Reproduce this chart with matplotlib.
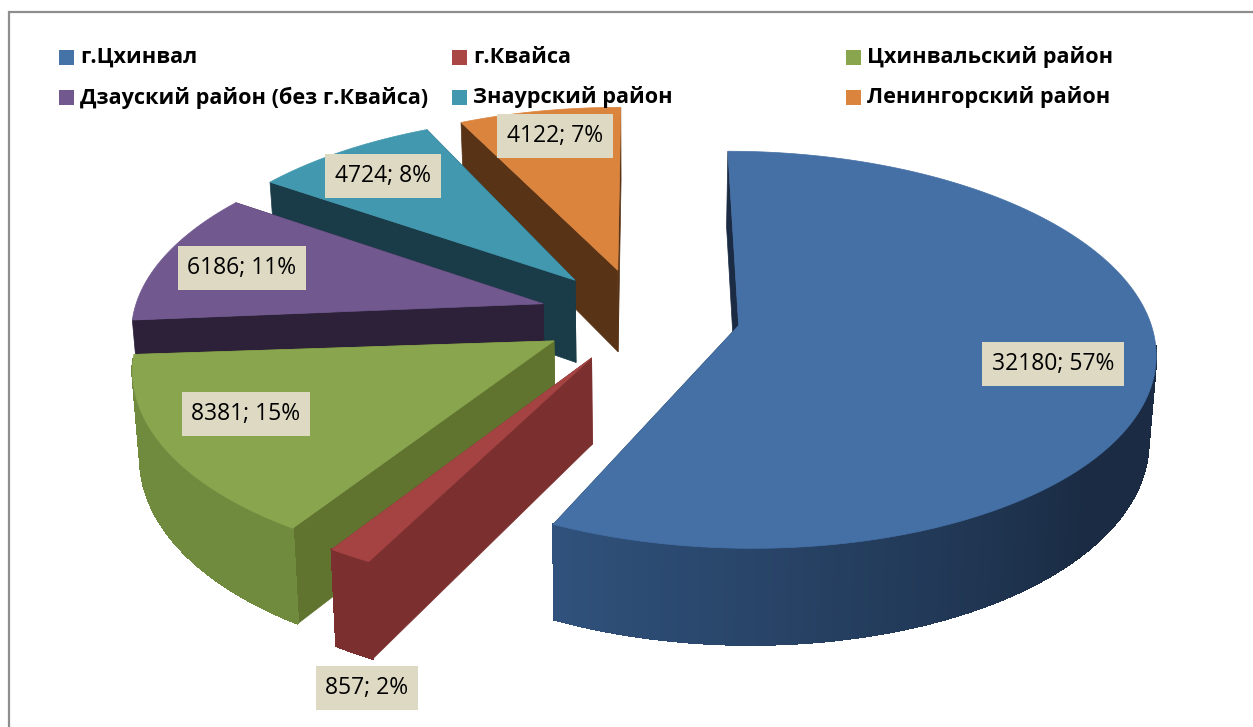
import numpy as np
import matplotlib
matplotlib.use("Agg")
import matplotlib.pyplot as plt
from matplotlib.colors import to_rgb

names = ["г.Цхинвал", "г.Квайса", "Цхинвальский район",
         "Дзауский район (без г.Квайса)", "Знаурский район", "Ленингорский район"]
values = [32180, 857, 8381, 6186, 4724, 4122]
percents = [57, 2, 15, 11, 8, 7]

top_colors = ["#4570A6", "#A54343", "#89A54E", "#71588F", "#4198AF", "#DB843D"]
side_colors = ["#1A2B43", "#7B302F", "#60742F", "#2C2138", "#1A3B48", "#583316"]
rim_light = ["#30527C", "#7B302F", "#708A3E", "#2C2138", "#1A3B48", "#583316"]
legend_colors = ["#4573A7", "#AA4643", "#89A54E", "#71588F", "#4198AF", "#DB843D"]

# centre of each data label box, in pixels
label_pos = [(1053, 364), (367, 688), (246, 414), (242, 268), (383, 176), (555, 136)]
legend_x = [59, 452, 846]
legend_y = [57, 97]
# small turn of each slice in degrees, the original view is not a perfect projection
slice_turn = [0, 2, 2, 1, 1, 0.1]

cx, cy = 640, 315
rx, ry = 410, 193
persp = 0.122
explode = 0.245
depth = 84
shrink = 0.985


def project(X, Y, bottom=False):
    s = 1 / (1 + persp * Y)
    x = cx + rx * X * s
    y = cy - ry * Y * s
    if bottom:
        x = cx + (x - cx) * shrink
        y = y + depth * s
    return x, y


def mix(c1, c2, f):
    a = np.array(to_rgb(c1))
    b = np.array(to_rgb(c2))
    return tuple(a + (b - a) * f)


fig = plt.figure(figsize=(12.53, 7.27), dpi=100)
ax = fig.add_axes([0, 0, 1, 1])
ax.set_xlim(0, 1253)
ax.set_ylim(727, 0)
ax.axis("off")

# chart frame, cut by the picture on the right and at the bottom
ax.plot([9, 9, 1253], [727, 11.5, 11.5], color="#8E8E8E", lw=1.6, solid_joinstyle="miter")

fracs = np.array(values) / sum(values)
ends = np.cumsum(fracs) * 2 * np.pi
starts = ends - fracs * 2 * np.pi

# back slices first, so the front ones cover them
for i in [5, 4, 3, 2, 1, 0]:
    mid = (starts[i] + ends[i]) / 2
    t0 = starts[i] + np.radians(slice_turn[i])
    t1 = ends[i] + np.radians(slice_turn[i])
    ox = explode * np.sin(mid)
    oy = explode * np.cos(mid)
    ts = np.linspace(t0, t1, max(int((t1 - t0) * 90), 6))
    X = ox + np.sin(ts)
    Y = oy + np.cos(ts)
    xt, yt = project(X, Y)
    xb, yb = project(X, Y, bottom=True)
    ax_, ay_ = project(ox, oy)
    bx_, by_ = project(ox, oy, bottom=True)

    # flat cut sides
    for k in [0, -1]:
        ax.fill([ax_, xt[k], xb[k], bx_], [ay_, yt[k], yb[k], by_],
                color=side_colors[i], lw=0.5, zorder=i * -3 + 20)

    # curved outer wall, only the part turned to the viewer
    for k in range(len(ts) - 1):
        if np.cos(ts[k]) > -0.1:
            continue
        f = np.clip((np.degrees(ts[k]) - 130) / 75, 0, 1) if i == 0 else 1
        c = mix(side_colors[0], rim_light[0], f) if i == 0 else rim_light[i]
        ax.fill([xt[k], xt[k + 1], xb[k + 1], xb[k]], [yt[k], yt[k + 1], yb[k + 1], yb[k]],
                color=c, lw=1, antialiased=False, zorder=i * -3 + 21)

    ax.fill(np.r_[ax_, xt], np.r_[ay_, yt], color=top_colors[i], lw=0.5, zorder=i * -3 + 22)

for i in range(len(values)):
    ax.text(label_pos[i][0], label_pos[i][1], "%d; %d%%" % (values[i], percents[i]),
            ha="center", va="center", fontsize=16.5, family="Open Sans", color="black",
            bbox=dict(boxstyle="square,pad=0.42", fc="#DDD9C3", ec="none"), zorder=40)

for i in range(len(names)):
    col = i % 3
    row = i // 3
    x = legend_x[col]
    y = legend_y[row]
    ax.fill([x, x + 15, x + 15, x], [y - 7, y - 7, y + 8, y + 8], color=legend_colors[i], lw=0, zorder=40)
    ax.text(x + 21, y + 0.5, names[i], ha="left", va="center", fontsize=15.6, fontweight="bold",
            family="Open Sans", color="black", zorder=40)

fig.savefig("out.png", dpi=100)
